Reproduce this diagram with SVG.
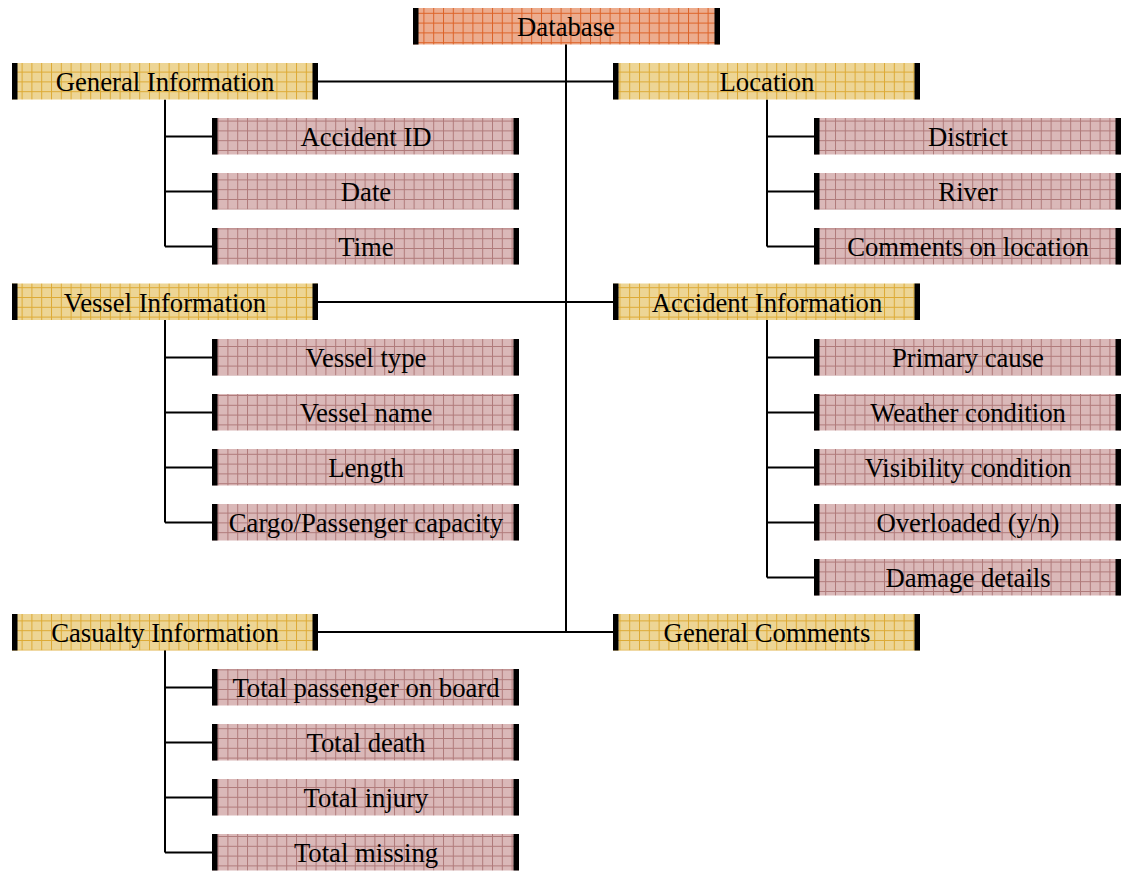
<svg xmlns="http://www.w3.org/2000/svg" width="1121" height="872" viewBox="0 0 1121 872">
<style>
.t{font-family:"Liberation Serif","Times New Roman",serif;font-size:26.7px;fill:#000;text-anchor:middle;dominant-baseline:central}
.c{stroke:#000;stroke-width:2;fill:none}
.bar{fill:#000}
.db{fill:url(#pDb)}
.hd{fill:url(#pHd)}
.ch{fill:url(#pCh)}
</style>
<defs>
<pattern id="pDb" patternUnits="userSpaceOnUse" x="2" y="3" width="9.8" height="9.8">
<rect width="9.8" height="9.8" fill="#ECAC8E"/>
<path d="M0 0.5H9.8M0.5 0V9.8" stroke="#DD6328" stroke-width="1"/>
</pattern>
<pattern id="pHd" patternUnits="userSpaceOnUse" x="2" y="3" width="9.8" height="9.8">
<rect width="9.8" height="9.8" fill="#EDD595"/>
<path d="M0 0.5H9.8M0.5 0V9.8" stroke="#DDAA35" stroke-width="1"/>
</pattern>
<pattern id="pCh" patternUnits="userSpaceOnUse" x="2" y="3" width="9.8" height="9.8">
<rect width="9.8" height="9.8" fill="#DAB8B8"/>
<path d="M0 0.5H9.8M0.5 0V9.8" stroke="#B07A7A" stroke-width="1"/>
</pattern>
</defs>
<rect width="1121" height="872" fill="#fff"/>

<g id="connectors">
<path class="c" d="M566 44V632"/>
<path class="c" d="M318 81.5H613M318 302H613M318 632H613"/>
<path class="c" d="M165 99.5V246.5M165 136.5H212M165 191.5H212M165 246.5H212"/>
<path class="c" d="M767 99.5V246.5M767 136.5H814M767 191.5H814M767 246.5H814"/>
<path class="c" d="M165 320V522.5M165 357.5H212M165 412.5H212M165 467.5H212M165 522.5H212"/>
<path class="c" d="M767 320V577.5M767 357.5H814M767 412.5H814M767 467.5H814M767 522.5H814M767 577.5H814"/>
<path class="c" d="M165 650V852.5M165 687.5H212M165 742.5H212M165 797.5H212M165 852.5H212"/>
</g>

<g id="database"><rect class="db" x="413" y="8" width="307" height="36.5"/><rect class="bar" x="413" y="8" width="5.5" height="36.5"/><rect class="bar" x="714.5" y="8" width="5.5" height="36.5"/><text class="t" x="566" y="27">Database</text></g>

<g id="general-information"><rect class="hd" x="12" y="63" width="306" height="36.5"/><rect class="bar" x="12" y="63" width="5.5" height="36.5"/><rect class="bar" x="312.5" y="63" width="5.5" height="36.5"/><text class="t" x="165" y="82">General Information</text></g>
<g id="accident-id"><rect class="ch" x="212" y="118" width="307" height="36.5"/><rect class="bar" x="212" y="118" width="5.5" height="36.5"/><rect class="bar" x="513.5" y="118" width="5.5" height="36.5"/><text class="t" x="366" y="137">Accident ID</text></g>
<g id="date"><rect class="ch" x="212" y="173" width="307" height="36.5"/><rect class="bar" x="212" y="173" width="5.5" height="36.5"/><rect class="bar" x="513.5" y="173" width="5.5" height="36.5"/><text class="t" x="366" y="192">Date</text></g>
<g id="time"><rect class="ch" x="212" y="228" width="307" height="36.5"/><rect class="bar" x="212" y="228" width="5.5" height="36.5"/><rect class="bar" x="513.5" y="228" width="5.5" height="36.5"/><text class="t" x="366" y="247">Time</text></g>

<g id="location"><rect class="hd" x="613" y="63" width="307" height="36.5"/><rect class="bar" x="613" y="63" width="5.5" height="36.5"/><rect class="bar" x="914.5" y="63" width="5.5" height="36.5"/><text class="t" x="767" y="82">Location</text></g>
<g id="district"><rect class="ch" x="814" y="118" width="307" height="36.5"/><rect class="bar" x="814" y="118" width="5.5" height="36.5"/><rect class="bar" x="1115.5" y="118" width="5.5" height="36.5"/><text class="t" x="968" y="137">District</text></g>
<g id="river"><rect class="ch" x="814" y="173" width="307" height="36.5"/><rect class="bar" x="814" y="173" width="5.5" height="36.5"/><rect class="bar" x="1115.5" y="173" width="5.5" height="36.5"/><text class="t" x="968" y="192">River</text></g>
<g id="comments-on-location"><rect class="ch" x="814" y="228" width="307" height="36.5"/><rect class="bar" x="814" y="228" width="5.5" height="36.5"/><rect class="bar" x="1115.5" y="228" width="5.5" height="36.5"/><text class="t" x="968" y="247">Comments on location</text></g>

<g id="vessel-information"><rect class="hd" x="12" y="283.5" width="306" height="36.5"/><rect class="bar" x="12" y="283.5" width="5.5" height="36.5"/><rect class="bar" x="312.5" y="283.5" width="5.5" height="36.5"/><text class="t" x="165" y="302.5">Vessel Information</text></g>
<g id="vessel-type"><rect class="ch" x="212" y="339" width="307" height="36.5"/><rect class="bar" x="212" y="339" width="5.5" height="36.5"/><rect class="bar" x="513.5" y="339" width="5.5" height="36.5"/><text class="t" x="366" y="358">Vessel type</text></g>
<g id="vessel-name"><rect class="ch" x="212" y="394" width="307" height="36.5"/><rect class="bar" x="212" y="394" width="5.5" height="36.5"/><rect class="bar" x="513.5" y="394" width="5.5" height="36.5"/><text class="t" x="366" y="413">Vessel name</text></g>
<g id="length"><rect class="ch" x="212" y="449" width="307" height="36.5"/><rect class="bar" x="212" y="449" width="5.5" height="36.5"/><rect class="bar" x="513.5" y="449" width="5.5" height="36.5"/><text class="t" x="366" y="468">Length</text></g>
<g id="cargo-passenger-capacity"><rect class="ch" x="212" y="504" width="307" height="36.5"/><rect class="bar" x="212" y="504" width="5.5" height="36.5"/><rect class="bar" x="513.5" y="504" width="5.5" height="36.5"/><text class="t" x="366" y="523">Cargo/Passenger capacity</text></g>

<g id="accident-information"><rect class="hd" x="613" y="283.5" width="307" height="36.5"/><rect class="bar" x="613" y="283.5" width="5.5" height="36.5"/><rect class="bar" x="914.5" y="283.5" width="5.5" height="36.5"/><text class="t" x="767" y="302.5">Accident Information</text></g>
<g id="primary-cause"><rect class="ch" x="814" y="339" width="307" height="36.5"/><rect class="bar" x="814" y="339" width="5.5" height="36.5"/><rect class="bar" x="1115.5" y="339" width="5.5" height="36.5"/><text class="t" x="968" y="358">Primary cause</text></g>
<g id="weather-condition"><rect class="ch" x="814" y="394" width="307" height="36.5"/><rect class="bar" x="814" y="394" width="5.5" height="36.5"/><rect class="bar" x="1115.5" y="394" width="5.5" height="36.5"/><text class="t" x="968" y="413">Weather condition</text></g>
<g id="visibility-condition"><rect class="ch" x="814" y="449" width="307" height="36.5"/><rect class="bar" x="814" y="449" width="5.5" height="36.5"/><rect class="bar" x="1115.5" y="449" width="5.5" height="36.5"/><text class="t" x="968" y="468">Visibility condition</text></g>
<g id="overloaded"><rect class="ch" x="814" y="504" width="307" height="36.5"/><rect class="bar" x="814" y="504" width="5.5" height="36.5"/><rect class="bar" x="1115.5" y="504" width="5.5" height="36.5"/><text class="t" x="968" y="523">Overloaded (y/n)</text></g>
<g id="damage-details"><rect class="ch" x="814" y="559" width="307" height="36.5"/><rect class="bar" x="814" y="559" width="5.5" height="36.5"/><rect class="bar" x="1115.5" y="559" width="5.5" height="36.5"/><text class="t" x="968" y="578">Damage details</text></g>

<g id="casualty-information"><rect class="hd" x="12" y="614" width="306" height="36.5"/><rect class="bar" x="12" y="614" width="5.5" height="36.5"/><rect class="bar" x="312.5" y="614" width="5.5" height="36.5"/><text class="t" x="165" y="633">Casualty Information</text></g>
<g id="total-passenger-on-board"><rect class="ch" x="212" y="669" width="307" height="36.5"/><rect class="bar" x="212" y="669" width="5.5" height="36.5"/><rect class="bar" x="513.5" y="669" width="5.5" height="36.5"/><text class="t" x="366" y="688">Total passenger on board</text></g>
<g id="total-death"><rect class="ch" x="212" y="724" width="307" height="36.5"/><rect class="bar" x="212" y="724" width="5.5" height="36.5"/><rect class="bar" x="513.5" y="724" width="5.5" height="36.5"/><text class="t" x="366" y="743">Total death</text></g>
<g id="total-injury"><rect class="ch" x="212" y="779" width="307" height="36.5"/><rect class="bar" x="212" y="779" width="5.5" height="36.5"/><rect class="bar" x="513.5" y="779" width="5.5" height="36.5"/><text class="t" x="366" y="798">Total injury</text></g>
<g id="total-missing"><rect class="ch" x="212" y="834" width="307" height="36.5"/><rect class="bar" x="212" y="834" width="5.5" height="36.5"/><rect class="bar" x="513.5" y="834" width="5.5" height="36.5"/><text class="t" x="366" y="853">Total missing</text></g>

<g id="general-comments"><rect class="hd" x="613" y="614" width="307" height="36.5"/><rect class="bar" x="613" y="614" width="5.5" height="36.5"/><rect class="bar" x="914.5" y="614" width="5.5" height="36.5"/><text class="t" x="767" y="633">General Comments</text></g>
</svg>
